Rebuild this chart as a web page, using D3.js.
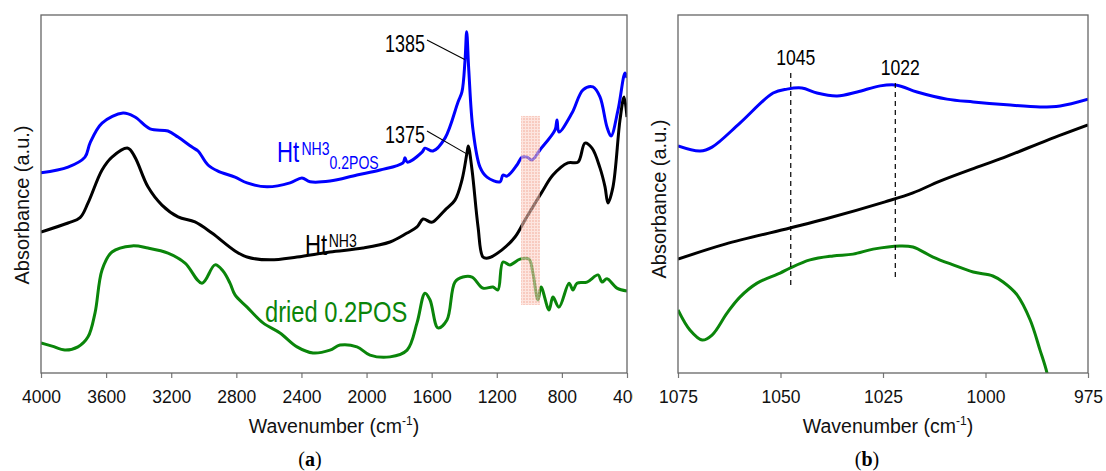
<!DOCTYPE html>
<html><head><meta charset="utf-8">
<script src="https://cdn.jsdelivr.net/npm/d3@7"></script>
<style>body{margin:0;background:#fff}svg{display:block}</style>
</head><body>
<svg id="c" width="1106" height="471"></svg>
<script>
// ---------- Panel (a) data: [wavenumber, absorbance a.u.] ----------
const aBlue = [[4000,55.9],[3834,57.5],[3730,60.3],[3699,64.2],[3625,69.8],[3496,72.6],[3423,71.5],[3330,68.2],[3220,67.6],[3158,65.9],[3072,63.1],[3035,62.0],[2974,58.1],[2913,56.4],[2808,54.7],[2734,53.1],[2612,52.0],[2470,53.1],[2397,54.5],[2347,53.4],[2225,53.6],[2059,55.3],[1917,56.7],[1776,58.7],[1764,60.1],[1750,58.9],[1659,61.7],[1641,62.8],[1592,62.0],[1518,65.6],[1438,75.7],[1414,78.5],[1395,87.4],[1385,95.3],[1372,84.6],[1346,67.9],[1303,57.5],[1260,54.7],[1180,53.4],[1162,55.3],[1137,55.0],[1076,58.1],[1045,60.3],[1014,60.3],[984,59.5],[935,62.3],[842,67.9],[830,70.7],[818,67.3],[738,72.6],[670,79.1],[609,79.9],[566,77.1],[523,68.7],[498,66.2],[455,73.5],[412,83.8],[400,82.4]];
const aBlack = [[4000,39.4],[3834,41.9],[3760,43.4],[3711,47.5],[3625,56.7],[3564,60.3],[3466,62.8],[3423,60.3],[3343,52.0],[3257,46.9],[3158,43.6],[3054,42.2],[2950,39.1],[2808,34.1],[2734,32.4],[2593,31.6],[2427,32.4],[2225,33.8],[2022,34.9],[1856,36.6],[1751,39.1],[1690,40.8],[1653,43.0],[1610,42.2],[1592,42.2],[1518,45.5],[1457,48.3],[1414,53.9],[1383,61.5],[1375,63.4],[1352,56.7],[1315,40.8],[1285,32.4],[1254,32.1],[1168,34.4],[1088,38.0],[1027,42.7],[922,50.6],[855,55.3],[763,58.7],[701,58.9],[658,64.2],[615,62.8],[566,57.3],[535,52.0],[517,47.5],[486,52.0],[443,70.7],[418,77.1],[400,71.5]];
const aGreen = [[4000,8.4],[3932,7.5],[3853,6.4],[3773,7.3],[3711,10.1],[3668,16.8],[3625,28.8],[3564,33.8],[3441,35.5],[3343,34.9],[3220,33.5],[3115,30.7],[3011,25.1],[2931,30.2],[2882,28.5],[2839,25.1],[2808,21.8],[2734,18.4],[2636,14.0],[2532,11.2],[2427,7.3],[2329,5.6],[2225,6.4],[2163,7.8],[2059,7.3],[1979,5.0],[1856,4.5],[1751,6.4],[1690,14.0],[1641,22.3],[1610,20.4],[1561,12.6],[1506,14.8],[1457,25.4],[1408,26.8],[1352,26.8],[1285,23.7],[1223,24.0],[1193,23.2],[1162,31.0],[1119,30.2],[1057,31.8],[1002,31.8],[978,27.9],[947,20.4],[928,24.0],[879,17.6],[855,21.2],[818,18.4],[756,25.1],[732,23.2],[707,25.1],[646,25.4],[578,27.4],[554,25.4],[523,26.3],[462,23.7],[400,22.9]];
const aTicks = [4000,3600,3200,2800,2400,2000,1600,1200,800,400];
const aBand = [1051, 935, 19.0, 71.8]; // wn from, wn to, abs low, abs high
const aPeaks = [{label:"1385", wn:1385, v:87}, {label:"1375", wn:1375, v:61}];

// ---------- Panel (b) data ----------
const bBlue = [[1075,63.4],[1069.6,62.0],[1066.7,63.1],[1059.9,69.8],[1051.8,78.2],[1048.4,79.3],[1044.8,79.6],[1041.1,78.2],[1036.2,77.4],[1031.3,78.5],[1025.7,80.2],[1021.6,80.4],[1016.7,78.5],[1009.4,76.5],[1003.0,75.7],[994.8,74.9],[986.7,74.3],[981.8,74.6],[975,76.5]];
const bBlack = [[1075,31.8],[1063.5,36.0],[1047.7,40.5],[1039.1,43.0],[1024.5,47.8],[1017.7,50.3],[1011.1,53.6],[1001.3,57.8],[994.8,60.5],[985,65.0],[975,69.3]];
const bGreen = [[1075,17.6],[1072.1,12.0],[1069.1,9.2],[1066.7,10.6],[1063.0,16.8],[1059.9,21.2],[1055.7,25.1],[1050.1,27.9],[1047.7,29.3],[1042.8,31.6],[1037.2,32.7],[1032.3,33.2],[1027.4,34.6],[1020.9,35.5],[1017.7,35.2],[1012.8,32.4],[1007.9,30.2],[1003.0,28.2],[998.2,27.1],[995.7,25.4],[992.3,21.8],[989.1,14.8],[986.7,6.4],[985.0,0],[983.8,-8]];
const bTicks = [1075,1050,1025,1000,975];
const bMarks = [{label:"1045", wn:1047.5, top:73, bottom:287}, {label:"1022", wn:1022, top:83, bottom:279}];

const BLUE = "#0000ff", BLACK = "#000000", GREEN = "#0a850a";
const svg = d3.select("#c");
const FONT = "Liberation Sans, Arial, sans-serif";

const defs = svg.append("defs");
defs.append("clipPath").attr("id","clipA").append("rect").attr("x",41).attr("y",15).attr("width",586).attr("height",358);
defs.append("clipPath").attr("id","clipB").append("rect").attr("x",678).attr("y",15).attr("width",410).attr("height",358);
defs.append("clipPath").attr("id","clipAll").append("rect").attr("x",0).attr("y",0).attr("width",633).attr("height",471);
const pat = defs.append("pattern").attr("id","grid").attr("width",3).attr("height",3).attr("patternUnits","userSpaceOnUse");
pat.append("rect").attr("width",3).attr("height",3).attr("fill","#f4a896");
pat.append("path").attr("d","M0,0.5H3M0.5,0V3").attr("stroke","#fbd3c9").attr("stroke-width",1);

function narrow(g, x, y, size, sx, anchor, color){
  return g.append("text").attr("transform",`translate(${x},${y}) scale(${sx},1)`)
    .attr("font-family",FONT).attr("font-size",size).attr("fill",color||"#000")
    .attr("text-anchor",anchor||"start");
}

function panel(opts){
  const {x0,x1,dom,ticks,clip,series,ylabX,titleX,capX,cap} = opts;
  const x = d3.scaleLinear().domain(dom).range([x0,x1]);
  const y = d3.scaleLinear().domain([0,100]).range([373,15]);
  const root = svg.append("g");
  const axisG = root.append("g").attr("transform","translate(0,373)")
    .call(d3.axisBottom(x).tickValues(ticks).tickFormat(d3.format("d")).tickSize(5).tickSizeOuter(0).tickPadding(13));
  axisG.select(".domain").remove();
  axisG.selectAll(".tick line").attr("stroke","#777").attr("stroke-width",1.2);
  axisG.selectAll(".tick text").attr("font-family",FONT).attr("font-size",17.5).attr("fill","#111");
  const line = d3.line().x(d=>x(d[0])).y(d=>y(d[1])).curve(d3.curveCatmullRom.alpha(0.5));
  const pg = root.append("g").attr("clip-path",`url(#${clip})`);
  series.forEach(s=>{
    pg.append("path").datum(s.data).attr("d",line).attr("fill","none")
      .attr("stroke",s.color).attr("stroke-width",3).attr("stroke-linejoin","round");
  });
  root.append("rect").attr("x",x0).attr("y",15).attr("width",x1-x0).attr("height",358)
    .attr("fill","none").attr("stroke","#666").attr("stroke-width",1.3);
  root.append("text").attr("transform",`translate(${ylabX},${opts.ylabY}) rotate(-90)`)
    .attr("text-anchor","middle").attr("font-family",FONT).attr("font-size",20).attr("fill","#111")
    .text("Absorbance (a.u.)");
  const t = root.append("text").attr("x",titleX).attr("y",433).attr("text-anchor","middle")
    .attr("font-family",FONT).attr("font-size",19.5).attr("fill","#111");
  t.append("tspan").text("Wavenumber (cm");
  t.append("tspan").attr("dy",-8).attr("font-size",12).text("-1");
  t.append("tspan").attr("dy",8).text(")");
  const c = svg.append("text").attr("x",capX).attr("y",466).attr("text-anchor","middle")
    .attr("font-family","Liberation Serif, DejaVu Serif, serif").attr("font-size",20).attr("fill","#000");
  c.append("tspan").text("(");
  c.append("tspan").attr("font-weight","bold").text(cap);
  c.append("tspan").text(")");
  return {x,y,root,pg};
}

// Panel a
const pa = panel({x0:41,x1:627,dom:[4000,400],ticks:aTicks,clip:"clipA",
  series:[{data:aBlue,color:BLUE},{data:aBlack,color:BLACK},{data:aGreen,color:GREEN}],
  ylabX:29,ylabY:205,titleX:334,capX:310,cap:"a"});
pa.root.attr("clip-path","url(#clipAll)");
pa.root.append("rect").attr("x",pa.x(aBand[0])).attr("y",pa.y(aBand[3]))
  .attr("width",pa.x(aBand[1])-pa.x(aBand[0])).attr("height",pa.y(aBand[2])-pa.y(aBand[3]))
  .attr("fill","url(#grid)").attr("opacity",0.6);
aPeaks.forEach((p,i)=>{
  const ty = i===0?52:143;
  narrow(pa.root,425,ty,23,0.78,"end").text(p.label);
  pa.root.append("line").attr("x1",427).attr("y1",ty-12).attr("x2",pa.x(p.wn)-2).attr("y2",pa.y(p.v)+(i===0?-2:-1))
    .attr("stroke","#000").attr("stroke-width",1.1);
});
{
  const t = narrow(pa.root,277,162,30,0.74,"start",BLUE);
  t.append("tspan").text("Ht");
  t.append("tspan").attr("dy",-7).attr("dx",3).attr("font-size",19).text("NH3");
  t.append("tspan").attr("dy",14).attr("font-size",19).text("0.2POS");
  const k = narrow(pa.root,305,255,30,0.74,"start",BLACK);
  k.append("tspan").text("Ht");
  k.append("tspan").attr("dy",-8).attr("dx",2).attr("font-size",19).text("NH3");
  narrow(pa.root,265,322,30,0.79,"start",GREEN).text("dried 0.2POS");
}

// Panel b
const pb = panel({x0:678,x1:1088,dom:[1075,975],ticks:bTicks,clip:"clipB",
  series:[{data:bBlue,color:BLUE},{data:bBlack,color:BLACK},{data:bGreen,color:GREEN}],
  ylabX:666,ylabY:199,titleX:888,capX:867,cap:"b"});
bMarks.forEach(m=>{
  pb.root.append("line").attr("x1",pb.x(m.wn)).attr("x2",pb.x(m.wn)).attr("y1",m.top).attr("y2",m.bottom)
    .attr("stroke","#000").attr("stroke-width",1.2).attr("stroke-dasharray","5,4");
  narrow(pb.root,pb.x(m.wn)+5,m.top-8,22,0.8,"middle").text(m.label);
});
</script>
</body></html>
